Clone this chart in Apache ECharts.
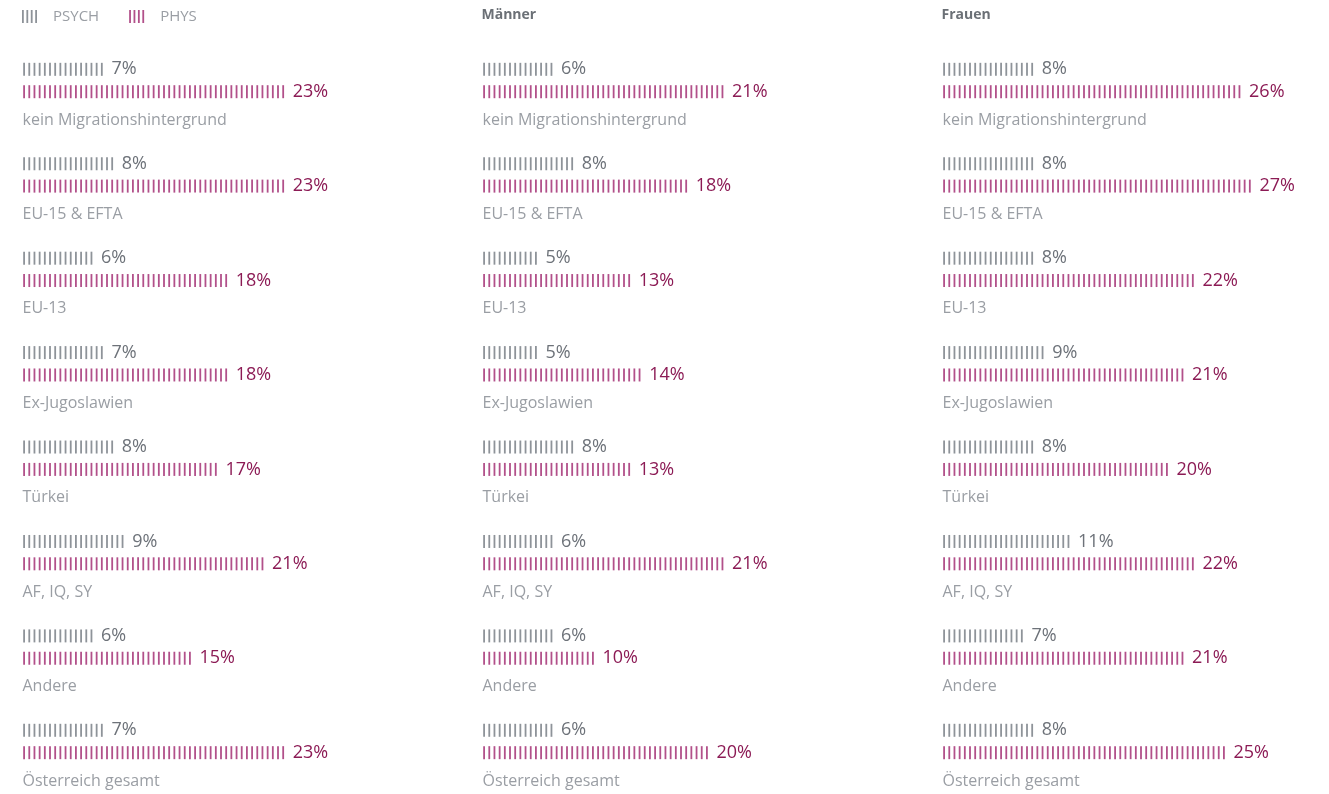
<!DOCTYPE html>
<html>
<head>
<meta charset="utf-8">
<script src="https://cdn.jsdelivr.net/npm/echarts@6/dist/echarts.min.js"></script>
<style>
  html, body { margin: 0; padding: 0; background: #ffffff; }
  #chart { width: 1329px; height: 794px; }
</style>
</head>
<body>
<div id="chart"></div>
<script>
// Herkunftsgruppen (von oben nach unten)
const categories = [
  'kein Migrationshintergrund',
  'EU-15 & EFTA',
  'EU-13',
  'Ex-Jugoslawien',
  'Türkei',
  'AF, IQ, SY',
  'Andere',
  'Österreich gesamt'
];

// Anteile in Prozent: psychische bzw. physische Belastung
const gesamtPsych = [7, 8, 6, 7, 8, 9, 6, 7];
const gesamtPhys  = [23, 23, 18, 18, 17, 21, 15, 23];
const maennerPsych = [6, 8, 5, 5, 8, 6, 6, 6];
const maennerPhys  = [21, 18, 13, 14, 13, 21, 10, 20];
const frauenPsych = [8, 8, 8, 9, 8, 11, 7, 8];
const frauenPhys  = [26, 27, 22, 21, 20, 22, 21, 25];

const panelTitles = ['', 'Männer', 'Frauen'];
const seriesNames = ['PSYCH', 'PHYS'];

const panels = [
  { psych: gesamtPsych, phys: gesamtPhys },
  { psych: maennerPsych, phys: maennerPhys },
  { psych: frauenPsych, phys: frauenPhys }
];

const FONT = '"Open Sans", Lato, sans-serif';
const GRAY_MARK = '#8e9399';
const GRAY_TEXT = '#6d7279';
const PINK_MARK = '#b2508a';
const PINK_TEXT = '#8c1b55';
const LABEL_TEXT = '#9a9ea4';

const panelLeft = [21.5, 481.5, 941.5];
const gridTop = 33.3;
const gridHeight = 755.4;
const gridWidth = 342;
const xMax = 30;

// small "||||" icon for the legend
const tickIcon = 'path://M0,0h1.8v13h-1.8z M4.4,0h1.8v13h-1.8z M8.8,0h1.8v13h-1.8z M13.2,0h1.8v13h-1.8z';

const grids = [], xAxes = [], yAxes = [], series = [], titles = [];

panels.forEach((p, i) => {
  grids.push({ left: panelLeft[i], top: gridTop, width: gridWidth, height: gridHeight });
  xAxes.push({
    gridIndex: i, type: 'value', min: 0, max: xMax, show: false
  });
  yAxes.push({
    gridIndex: i, type: 'category', inverse: true, data: categories,
    axisLine: { show: false }, axisTick: { show: false }, splitLine: { show: false },
    axisLabel: {
      inside: true, margin: 1, verticalAlign: 'top', padding: [31.5, 0, 0, 0],
      fontFamily: FONT, fontSize: 16, color: LABEL_TEXT
    }
  });
  const mk = (name, data, mark, text) => ({
    name: name,
    type: 'pictorialBar',
    xAxisIndex: i, yAxisIndex: i,
    data: data,
    symbol: 'rect',
    symbolSize: [1.8, 13],
    symbolRepeat: true,
    symbolMargin: '1.7!',
    symbolPosition: 'start',
    barWidth: 13,
    barGap: '72%',
    itemStyle: { color: mark },
    label: {
      show: true, position: 'right', distance: 7,
      formatter: '{c}%', fontFamily: FONT, fontSize: 18, color: text
    },
    silent: true,
    animation: false
  });
  series.push(mk(seriesNames[0], p.psych, GRAY_MARK, GRAY_TEXT));
  series.push(mk(seriesNames[1], p.phys, PINK_MARK, PINK_TEXT));
  if (panelTitles[i]) {
    titles.push({
      text: panelTitles[i], left: panelLeft[i], top: 8, padding: 0,
      textStyle: { fontFamily: FONT, fontSize: 14, fontWeight: 'bold', color: '#6b7076' }
    });
  }
});

const chart = echarts.init(document.getElementById('chart'), null, { renderer: 'canvas' });
chart.setOption({
  animation: false,
  title: titles,
  legend: {
    left: 22, top: 9, padding: 0,
    itemWidth: 15, itemHeight: 13, itemGap: 30,
    selectedMode: false,
    data: [
      { name: seriesNames[0], icon: tickIcon, itemStyle: { color: GRAY_MARK } },
      { name: seriesNames[1], icon: tickIcon, itemStyle: { color: PINK_MARK } }
    ],
    textStyle: { fontFamily: FONT, fontSize: 15, color: LABEL_TEXT, padding: [0, 0, 0, 11] }
  },
  grid: grids,
  xAxis: xAxes,
  yAxis: yAxes,
  series: series
});
</script>
</body>
</html>
